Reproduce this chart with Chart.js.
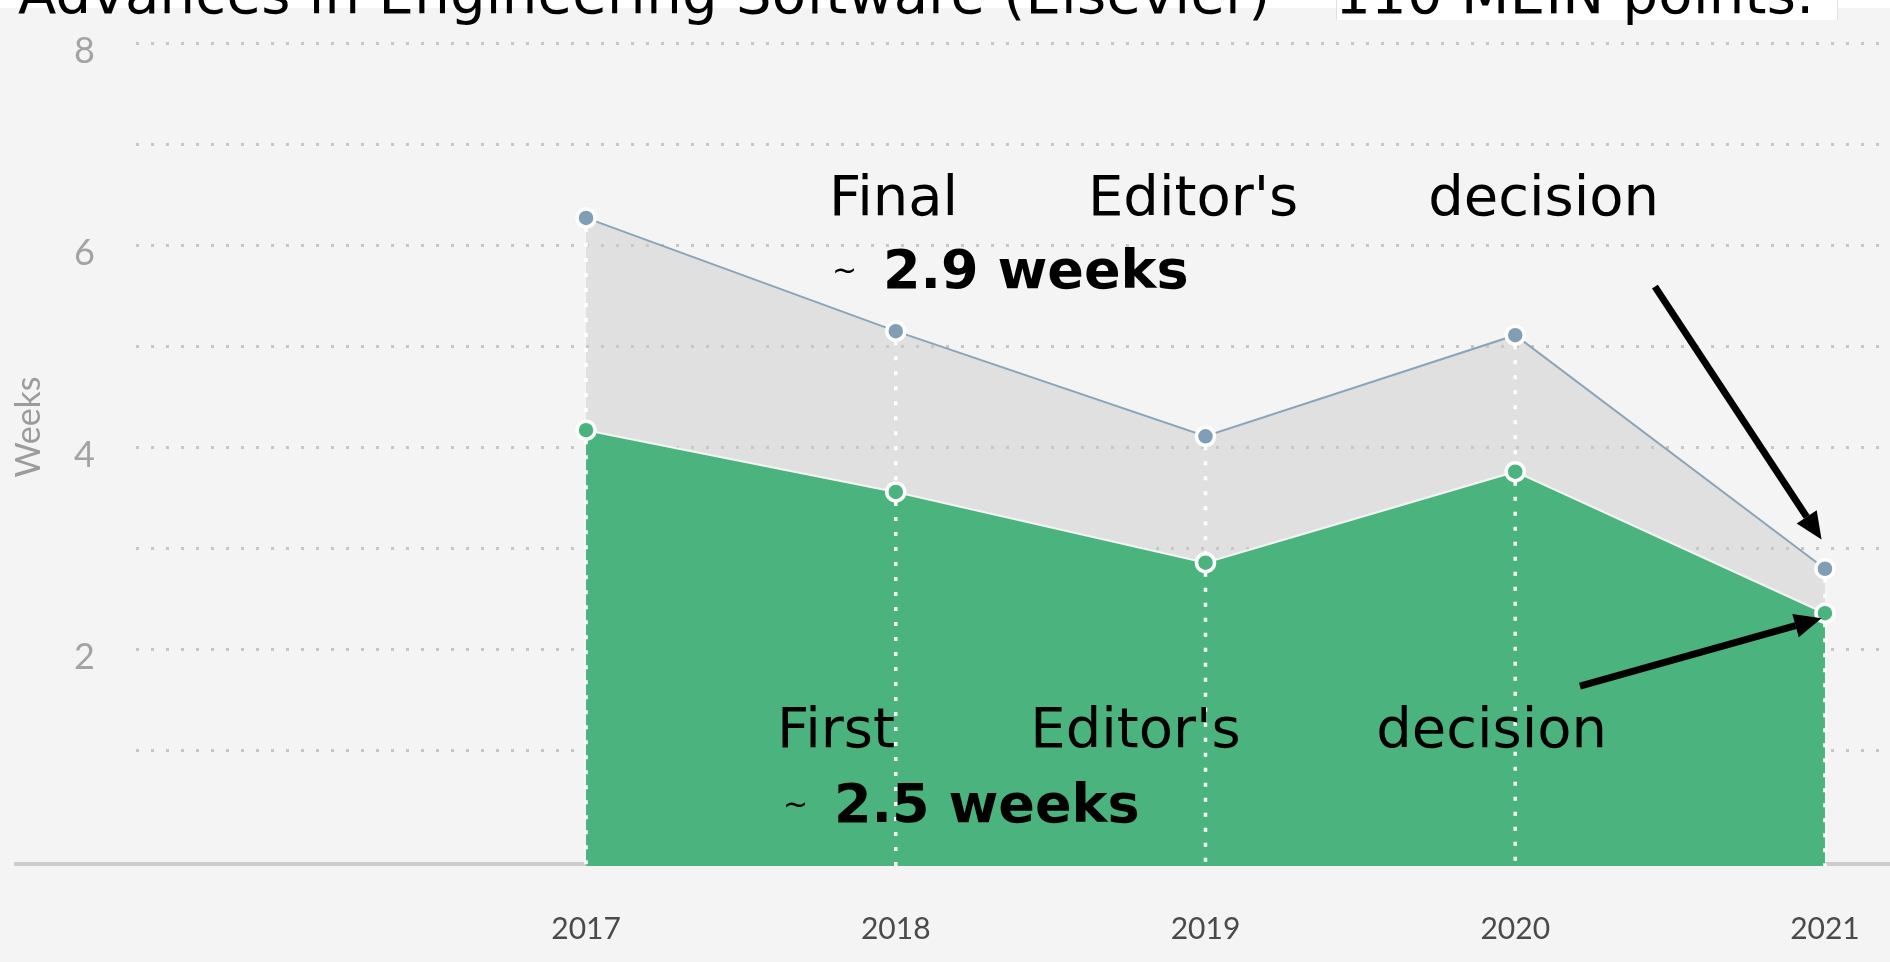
<!DOCTYPE html>
<html>
<head>
<meta charset="utf-8">
<title>Editor's decision times</title>
<script src="https://cdn.jsdelivr.net/npm/chart.js@4.4.1/dist/chart.umd.min.js"></script>
<style>
  html, body { margin: 0; padding: 0; background: #f4f4f4; overflow: hidden; }
  #wrap { position: relative; width: 1890px; height: 962px; }
  #chart { position: absolute; left: 0; top: 0; }
  #strip { position: absolute; left: 0; top: 0; width: 1890px; height: 8px; background: #fff; }
  #box { position: absolute; left: 1336px; top: 0; width: 500px; height: 20px; background: #fff;
         border-left: 1px solid #e0e0e0; border-right: 1px solid #e0e0e0; }
  #title { position: absolute; left: 18px; top: -34px; font: 56px/56px "DejaVu Sans"; letter-spacing: 0.3px;
           color: #000; white-space: nowrap; }
  .row1 { position: absolute; display: flex; justify-content: space-between; width: 830px;
          font: 56px/56px "DejaVu Sans"; color: #000; white-space: nowrap; }
  .row2 { position: absolute; font-family: "DejaVu Sans"; color: #000; white-space: nowrap; height: 54px; }
  .row2 .tl { position: absolute; left: 0; top: 0; font-size: 30px; line-height: 54px; }
  .row2 b { position: absolute; left: 51px; top: 0; font-size: 54px; line-height: 54px; }
</style>
</head>
<body>
<div id="wrap">
  <canvas id="chart" width="1890" height="962"></canvas>
  <div id="strip"></div>
  <div id="box"></div>
  <div id="title">Advances in Engineering Software (Elsevier) – 110 MEIN points.</div>

  <div class="row1" style="left:829px; top:168px;"><span>Final</span><span>Editor's</span><span>decision</span></div>
  <div class="row2" style="left:832px; top:243px;"><span class="tl">~</span><b>2.9 weeks</b></div>

  <div class="row1" style="left:777px; top:700px;"><span>First</span><span>Editor's</span><span>decision</span></div>
  <div class="row2" style="left:783px; top:777px;"><span class="tl">~</span><b>2.5 weeks</b></div>
</div>

<script>
// values (weeks)
const years         = [2017, 2018, 2019, 2020, 2021];
const yearLabels    = ['2017', '2018', '2019', '2020', '2021'];
const firstDecision = [4.17, 3.56, 2.86, 3.76, 2.36];
const finalDecision = [6.27, 5.15, 4.11, 5.11, 2.80];
const gridValues    = [1, 2, 3, 4, 5, 6, 7, 8];
const labelledTicks = [2, 4, 6, 8];

// arrows pointing at the 2021 values, in axis units
const arrows = [
  { from: [2020.451, 5.59], to: [2020.989, 3.09] },
  { from: [2020.209, 1.64], to: [2020.989, 2.31] }
];

const pts = vals => vals.map((v, i) => ({ x: years[i], y: v }));

// keep the plot area where the picture has it, no room reserved for label overhang
const noPad = ax => { ax.paddingTop = 0; ax.paddingBottom = 0; ax.paddingLeft = 0; ax.paddingRight = 0; };

const overlay = {
  id: 'overlay',
  beforeDatasetsDraw(chart) {
    const { ctx, chartArea } = chart;
    ctx.save();
    // base line runs out under the axis labels too
    ctx.strokeStyle = '#cccccc';
    ctx.lineWidth = 4;
    ctx.beginPath();
    ctx.moveTo(14, chartArea.bottom - 2);
    ctx.lineTo(chart.width, chartArea.bottom - 2);
    ctx.stroke();
    // axis title
    ctx.translate(29, 427);
    ctx.rotate(-Math.PI / 2);
    ctx.font = '34px Lato';
    ctx.fillStyle = '#9c9c9c';
    ctx.textAlign = 'center';
    ctx.textBaseline = 'middle';
    ctx.fillText('Weeks', 0, 0);
    ctx.restore();
  },
  afterDatasetsDraw(chart) {
    const { ctx, chartArea, scales: { x, y } } = chart;
    const green = chart.getDatasetMeta(0).data;
    const grey  = chart.getDatasetMeta(1).data;
    const r = 10;

    ctx.save();
    ctx.strokeStyle = '#ffffff';
    ctx.lineWidth = 3.5;
    ctx.setLineDash([4, 11]);
    green.forEach((g, i) => {
      const segs = [[grey[i].y + r, g.y - r], [g.y + r, chartArea.bottom]];
      segs.forEach(([a, b]) => {
        ctx.beginPath();
        ctx.moveTo(g.x, a);
        ctx.lineTo(g.x, b);
        ctx.stroke();
      });
    });
    ctx.restore();

    ctx.save();
    ctx.strokeStyle = '#000';
    ctx.fillStyle = '#000';
    ctx.lineWidth = 7;
    arrows.forEach(a => {
      const x0 = x.getPixelForValue(a.from[0]), y0 = y.getPixelForValue(a.from[1]);
      const x1 = x.getPixelForValue(a.to[0]),   y1 = y.getPixelForValue(a.to[1]);
      const ang = Math.atan2(y1 - y0, x1 - x0);
      const head = 27, half = 12;
      const bx = x1 - head * Math.cos(ang), by = y1 - head * Math.sin(ang);
      ctx.beginPath();
      ctx.moveTo(x0, y0);
      ctx.lineTo(bx, by);
      ctx.stroke();
      ctx.beginPath();
      ctx.moveTo(x1, y1);
      ctx.lineTo(bx + half * Math.sin(ang), by - half * Math.cos(ang));
      ctx.lineTo(bx - half * Math.sin(ang), by + half * Math.cos(ang));
      ctx.closePath();
      ctx.fill();
    });
    ctx.restore();
  }
};

Chart.defaults.font.family = 'Lato';

new Chart(document.getElementById('chart'), {
  type: 'line',
  data: {
    datasets: [{
      label: 'First Editor\'s decision',
      data: pts(firstDecision),
      borderColor: '#f4f4f4',
      borderWidth: 2,
      backgroundColor: '#4bb37e',
      fill: 'start',
      pointRadius: 9,
      pointBackgroundColor: '#4bb37e',
      pointBorderColor: '#ffffff',
      pointBorderWidth: 3.5,
      tension: 0
    }, {
      label: 'Final Editor\'s decision',
      data: pts(finalDecision),
      borderColor: '#8aa5ba',
      borderWidth: 2,
      backgroundColor: 'rgba(200,200,200,0.45)',
      fill: 'start',
      pointRadius: 9,
      pointBackgroundColor: '#809eb5',
      pointBorderColor: '#ffffff',
      pointBorderWidth: 3.5,
      tension: 0
    }]
  },
  options: {
    responsive: false,
    animation: false,
    layout: { autoPadding: false, padding: { top: 43, left: 0, right: 0, bottom: 0 } },
    plugins: { legend: { display: false }, tooltip: { enabled: false } },
    scales: {
      x: {
        type: 'linear',
        min: 2015.547,
        max: 2021.21,
        afterBuildTicks: ax => { ax.ticks = years.map(v => ({ value: v })); },
        afterFit: ax => { ax.height = 96; noPad(ax); },
        grid: { display: false },
        border: { display: false },
        ticks: {
          padding: 37,
          color: '#4a4a4a',
          font: { size: 30 },
          maxRotation: 0,
          autoSkip: false,
          callback: v => yearLabels[years.indexOf(v)]
        }
      },
      y: {
        min: -0.14,
        max: 8,
        afterBuildTicks: ax => { ax.ticks = gridValues.map(v => ({ value: v })); },
        afterFit: ax => { ax.width = 136; noPad(ax); },
        grid: { color: '#c6c6c6', lineWidth: 3, drawTicks: false },
        border: { display: false, dash: [3, 12] },
        ticks: {
          padding: 41,
          labelOffset: 8,
          color: '#a3a3a3',
          font: { size: 36 },
          autoSkip: false,
          callback: v => labelledTicks.includes(v) ? String(v) : ''
        }
      }
    }
  },
  plugins: [overlay]
});
</script>
</body>
</html>
